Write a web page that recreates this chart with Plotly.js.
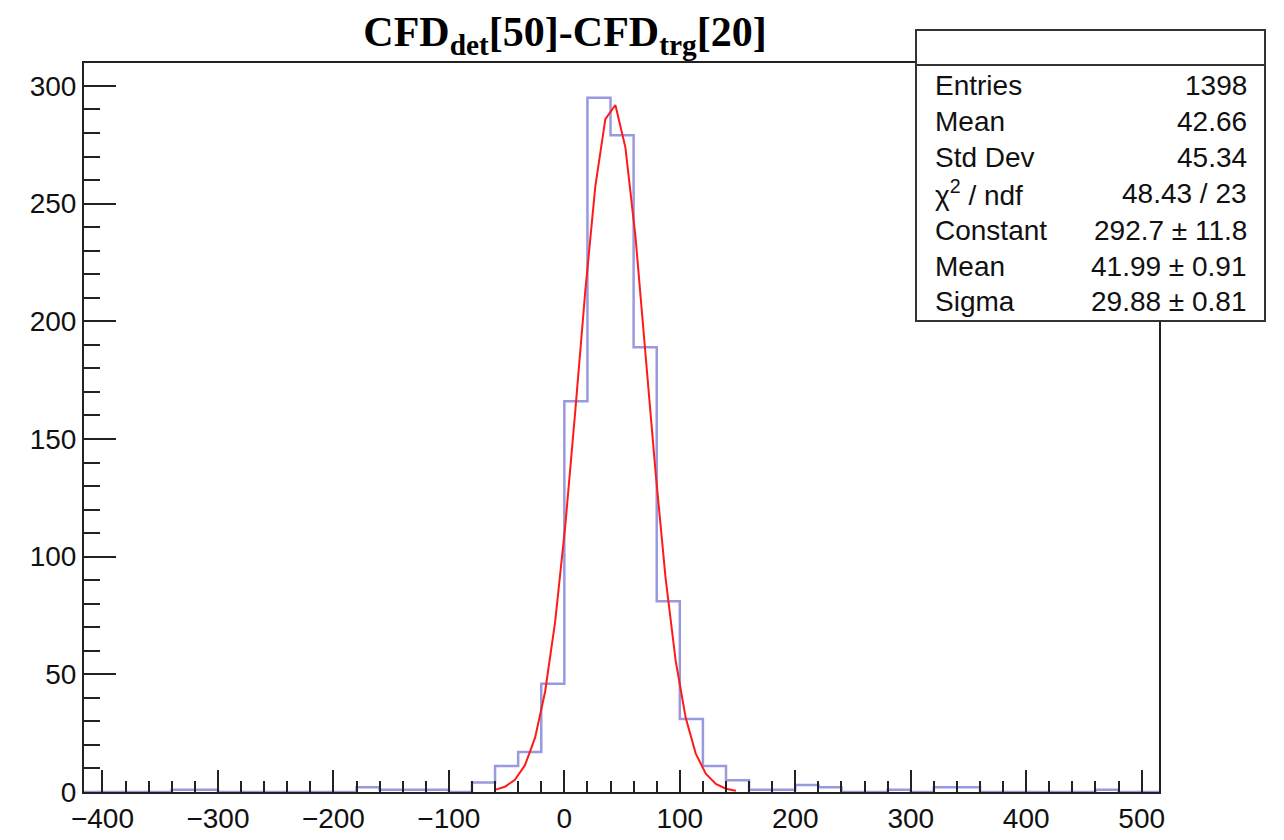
<!DOCTYPE html>
<html>
<head>
<meta charset="utf-8">
<script src="https://cdn.plot.ly/plotly-3.0.1.min.js"></script>
<style>html,body{margin:0;padding:0;background:#fff;} #chart{width:1284px;height:840px;}</style>
</head>
<body>
<div id="chart"></div>
<script>
// Histogram bins (lower edges, width 20) and counts
const binLowEdges = [-420,-400,-380,-360,-340,-320,-300,-280,-260,-240,-220,-200,-180,-160,-140,-120,-100,-80,-60,-40,-20,0,20,40,60,80,100,120,140,160,180,200,220,240,260,280,300,320,340,360,380,400,420,440,460,480,500];
const binCounts   = [0,0,0,0,1,1,0,0,0,0,0,0,2,1,1,1,0,4,11,17,46,166,295,279,189,81,31,11,5,1,1,3,2,0,0,1,0,2,2,0,0,0,0,0,1,0,0];
const binUpperEdge = 520;

// Red fit curve
const fitX = [-60.2,-51.5,-42.8,-34.1,-25.4,-16.7,-8.0,0.7,9.4,18.1,26.8,35.5,44.2,52.9,61.6,70.3,79.0,87.7,96.4,105.1,113.8,122.5,131.2,139.9,148.6];
const fitY = [0.9,2.2,5.2,11.4,23.0,42.5,72.2,112.6,161.5,212.6,257.2,285.9,291.9,273.8,236.0,186.9,135.9,90.8,55.8,31.5,16.3,7.8,3.4,1.4,0.5];

// Statistics box
const statLabels = ['Entries','Mean','Std Dev','\u03C7<sup>2</sup> / ndf','Constant','Mean','Sigma'];
const statValues = ['1398','42.66','45.34','48.43 / 23','292.7 \u00B1 11.8','41.99 \u00B1 0.91','29.88 \u00B1 0.81'];

const titleText = '<b>CFD<sub>det</sub>[50]-CFD<sub>trg</sub>[20]</b>';

// geometry helpers
const W = 1284, H = 840;
const L = 84, R = 1159, T = 63, B = 792;
const px2x = p => (p - L) / (R - L);
const px2y = p => (B - p) / (B - T);

const stepX = binLowEdges.concat([binUpperEdge]);
const stepY = binCounts.concat([binCounts[binCounts.length - 1]]);

const traces = [
  {x: stepX, y: stepY, type: 'scatter', mode: 'lines', line: {shape: 'hv', color: 'rgba(110,110,210,0.7)', width: 2.5}, hoverinfo: 'skip'},
  {x: fitX, y: fitY, type: 'scatter', mode: 'lines', line: {color: '#ff1a1a', width: 2}, hoverinfo: 'skip'}
];

const statFont = {family: 'Liberation Sans, Arial, sans-serif', size: 28, color: '#111'};
const rowY = [85, 121, 157, 193, 230, 266, 301];
const annotations = [];
statLabels.forEach((t, i) => {
  annotations.push({xref: 'paper', yref: 'paper', x: px2x(933), y: px2y(rowY[i]), xanchor: 'left', yanchor: 'middle', text: t, showarrow: false, font: statFont});
  annotations.push({xref: 'paper', yref: 'paper', x: px2x(1249), y: px2y(rowY[i]), xanchor: 'right', yanchor: 'middle', text: statValues[i], showarrow: false, font: statFont});
});

const shapes = [
  {type: 'rect', xref: 'paper', yref: 'paper', x0: px2x(916), x1: px2x(1265), y0: px2y(321), y1: px2y(30), fillcolor: '#fff', line: {color: '#333', width: 2}, layer: 'above'},
  {type: 'line', xref: 'paper', yref: 'paper', x0: px2x(916), x1: px2x(1265), y0: px2y(65), y1: px2y(65), line: {color: '#333', width: 2}, layer: 'above'}
];

const axisFont = {family: 'Liberation Sans, Arial, sans-serif', size: 28, color: '#111'};

const layout = {
  width: W, height: H,
  margin: {l: L, r: W - R, t: T, b: H - B, pad: 0},
  paper_bgcolor: '#fff', plot_bgcolor: '#fff',
  showlegend: false,
  title: {text: titleText, xref: 'container', yref: 'container', x: 565 / W, xanchor: 'center', y: 1 - 31 / H, yanchor: 'middle',
          font: {family: 'Liberation Serif, Times New Roman, serif', size: 42, color: '#000'}},
  xaxis: {range: [-416, 515], showgrid: false, zeroline: false, showline: true, mirror: true, linecolor: '#222', linewidth: 2,
          ticks: 'inside', ticklen: 22, tickwidth: 2, tickcolor: '#222', dtick: 100, tick0: 0,
          minor: {dtick: 20, ticks: 'inside', ticklen: 11, tickwidth: 2, tickcolor: '#222', showgrid: false},
          tickfont: axisFont, fixedrange: true},
  yaxis: {range: [0, 309.75], showgrid: false, zeroline: false, showline: true, mirror: true, linecolor: '#222', linewidth: 2,
          ticks: 'inside', ticklen: 32, tickwidth: 2, tickcolor: '#222', dtick: 50, tick0: 0,
          minor: {dtick: 10, ticks: 'inside', ticklen: 16, tickwidth: 2, tickcolor: '#222', showgrid: false},
          tickfont: axisFont, fixedrange: true},
  shapes: shapes,
  annotations: annotations
};

Plotly.newPlot('chart', traces, layout, {staticPlot: true, displayModeBar: false});
</script>
</body>
</html>
